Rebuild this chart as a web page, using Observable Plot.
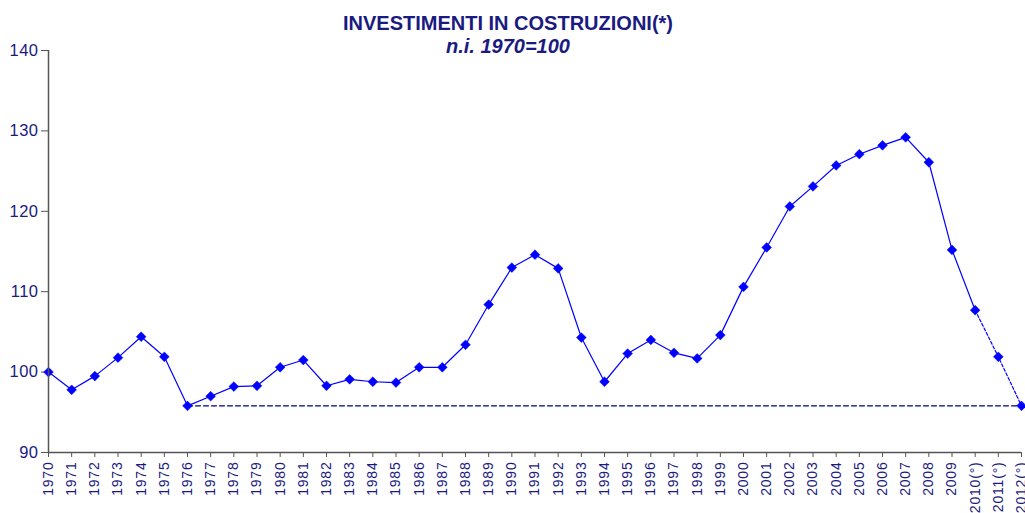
<!DOCTYPE html>
<html><head><meta charset="utf-8">
<script src="https://cdn.jsdelivr.net/npm/d3@7"></script>
<script src="https://cdn.jsdelivr.net/npm/@observablehq/plot@0.6"></script>
<style>
body{margin:0;background:#fff;}
#wrap{position:relative;width:1025px;height:513px;overflow:hidden;}
#wrap svg{position:absolute;left:0;top:0;}
.title{position:absolute;left:0;width:1016px;text-align:center;font-family:Arial,"Liberation Sans",sans-serif;color:#1a1a80;font-weight:bold;z-index:2;white-space:nowrap;}
g[aria-label="x-axis tick label"] text{letter-spacing:0.8px;}
g[aria-label="y-axis tick label"] text{letter-spacing:0.5px;}
</style></head><body>
<div id="wrap">
<div class="title" style="top:12px;font-size:20px;">INVESTIMENTI IN COSTRUZIONI(*)</div>
<div class="title" style="top:35px;font-size:20px;font-style:italic;">n.i. 1970=100</div>
</div>
<script>
const years = ["1970","1971","1972","1973","1974","1975","1976","1977","1978","1979",
  "1980","1981","1982","1983","1984","1985","1986","1987","1988","1989",
  "1990","1991","1992","1993","1994","1995","1996","1997","1998","1999",
  "2000","2001","2002","2003","2004","2005","2006","2007","2008","2009",
  "2010(°)","2011(°)","2012(°)"];
const values = [100.0, 97.8, 99.5, 101.8, 104.4, 101.9, 95.8, 97.0, 98.2, 98.3,
  100.6, 101.5, 98.3, 99.1, 98.8, 98.7, 100.6, 100.6, 103.4, 108.4,
  113.0, 114.6, 112.9, 104.3, 98.8, 102.3, 104.0, 102.4, 101.7, 104.6,
  110.6, 115.5, 120.6, 123.1, 125.7, 127.1, 128.2, 129.2, 126.1, 115.2,
  107.7, 101.9, 95.8];
const yTicks = [90, 100, 110, 120, 130, 140];
const forecastStart = "2010(°)";
const baselineYear = "1976";

const data = years.map((y, i) => ({year: y, value: values[i]}));
const fi = years.indexOf(forecastStart);
const solid = data.slice(0, fi + 1);
const dashed = data.slice(fi);
const bi = years.indexOf(baselineYear);
const baseline = [data[bi], {year: years[years.length - 1], value: values[bi]}];

const navy = "#1a1a80";
const chart = Plot.plot({
  width: 1025,
  height: 513,
  marginLeft: 48,
  marginRight: 4,
  marginTop: 50,
  marginBottom: 61,
  style: {fontFamily: "Arial, 'Liberation Sans', sans-serif", fontSize: "16px", color: navy, background: "white"},
  x: {type: "point", domain: years, padding: 0, round: false},
  y: {domain: [90, 140]},
  marks: [
    Plot.axisY({ticks: yTicks, tickSize: 7, tickPadding: 3, stroke: "#555", fill: navy, label: null, fontSize: 16.5}),
    Plot.axisX({tickRotate: -90, tickSize: 5, tickPadding: 4, stroke: "#555", fill: navy, label: null, fontSize: 14}),
    Plot.line(baseline, {x: "year", y: "value", stroke: "#000080", strokeWidth: 1.1, strokeDasharray: "5,3"}),
    Plot.line(solid, {x: "year", y: "value", stroke: "#0000ff", strokeWidth: 1.2}),
    Plot.line(dashed, {x: "year", y: "value", stroke: "#0000ff", strokeWidth: 1.2, strokeDasharray: "3,2"}),
    Plot.dot(data, {x: "year", y: "value", symbol: "diamond2", r: 4.4, fill: "#0000ff", stroke: "#0000ff", strokeWidth: 0.5}),
    Plot.ruleX([years[0]], {stroke: "#555", strokeWidth: 1.5}),
    Plot.ruleY([90], {stroke: "#555", strokeWidth: 1.5})
  ]
});
document.getElementById("wrap").prepend(chart);
</script>
</body></html>
